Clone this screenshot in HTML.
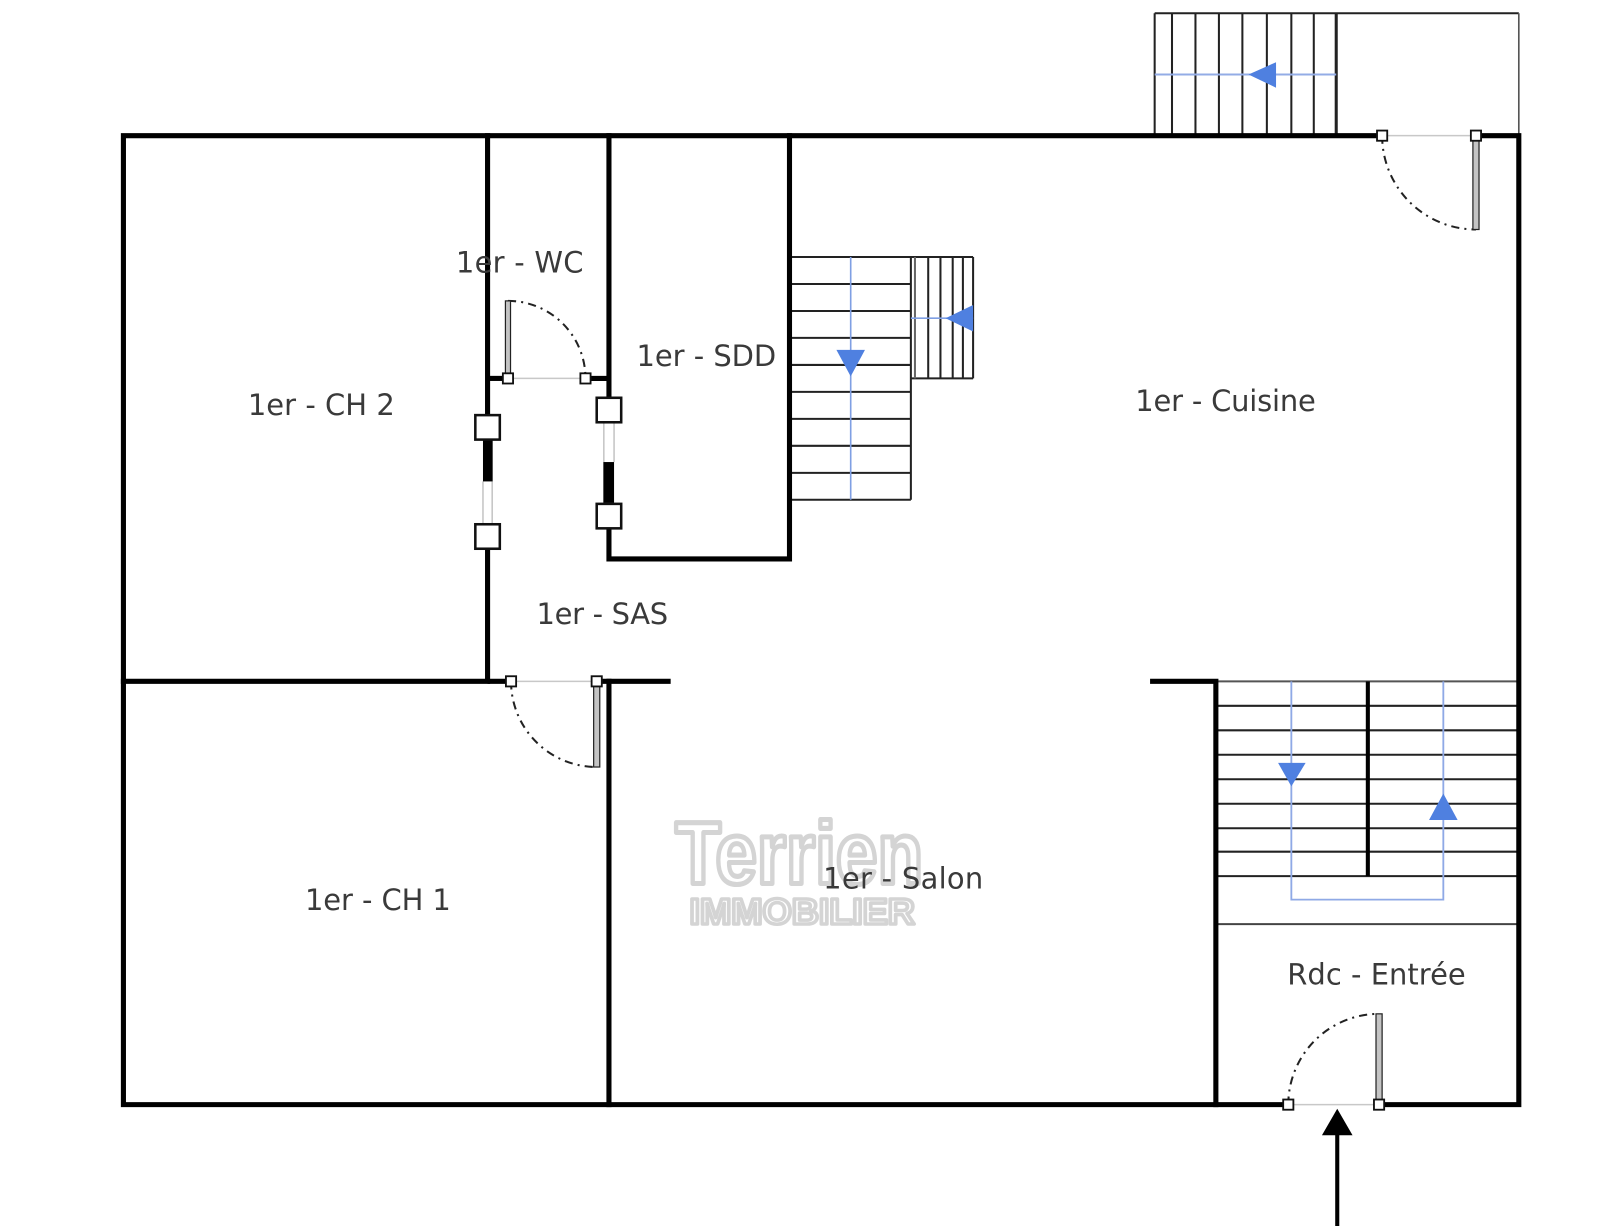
<!DOCTYPE html>
<html><head><meta charset="utf-8"><style>
html,body{margin:0;padding:0;background:#fff;}
svg{display:block;}
.lbl{font-family:"DejaVu Sans","Liberation Sans",sans-serif;font-size:28.4px;fill:#3a3a3a;}
</style></head><body>
<svg width="1600" height="1226" viewBox="0 0 1568.6 1202" preserveAspectRatio="none" xmlns="http://www.w3.org/2000/svg">
<rect x="0" y="0" width="1568.6" height="1202" fill="#fff"/>

<!-- Kitchen top stair -->
<g stroke="#222" fill="none">
  <line x1="1132" y1="13" x2="1489" y2="13" stroke-width="2"/>
  <line x1="1489" y1="13" x2="1489" y2="133" stroke-width="1.6" stroke="#555"/>
  <g stroke-width="2">
    <line x1="1132" y1="13" x2="1132" y2="133"/>
    <line x1="1149" y1="13" x2="1149" y2="133"/>
    <line x1="1172" y1="13" x2="1172" y2="133"/>
    <line x1="1195" y1="13" x2="1195" y2="133"/>
    <line x1="1218" y1="13" x2="1218" y2="133"/>
    <line x1="1242" y1="13" x2="1242" y2="133"/>
    <line x1="1266" y1="13" x2="1266" y2="133"/>
    <line x1="1288" y1="13" x2="1288" y2="133"/>
  </g>
  <line x1="1310" y1="13" x2="1310" y2="133" stroke-width="3"/>
</g>
<line x1="1132" y1="73" x2="1310" y2="73" stroke="#93ace6" stroke-width="2"/>
<polygon points="1224,73 1251,61 1251,86" fill="#4f80e0"/>

<!-- SDD stair -->
<g stroke="#222" stroke-width="2" fill="none">
  <line x1="774" y1="252" x2="954" y2="252"/>
  <line x1="774" y1="278.4" x2="893" y2="278.4"/>
  <line x1="774" y1="304.9" x2="893" y2="304.9"/>
  <line x1="774" y1="331.3" x2="893" y2="331.3"/>
  <line x1="774" y1="357.8" x2="893" y2="357.8"/>
  <line x1="774" y1="384.2" x2="893" y2="384.2"/>
  <line x1="774" y1="410.7" x2="893" y2="410.7"/>
  <line x1="774" y1="437.1" x2="893" y2="437.1"/>
  <line x1="774" y1="463.6" x2="893" y2="463.6"/>
  <line x1="774" y1="490" x2="893" y2="490"/>
  <line x1="893" y1="252" x2="893" y2="490"/>
  <line x1="893" y1="371" x2="954" y2="371"/>
  <line x1="897" y1="252" x2="897" y2="371" stroke="#666"/>
  <line x1="910" y1="252" x2="910" y2="371"/>
  <line x1="922" y1="252" x2="922" y2="371"/>
  <line x1="934" y1="252" x2="934" y2="371"/>
  <line x1="944" y1="252" x2="944" y2="371"/>
  <line x1="954" y1="252" x2="954" y2="371"/>
</g>
<line x1="834" y1="252" x2="834" y2="490" stroke="#7f9fe3" stroke-width="1.6"/>
<line x1="893" y1="312" x2="954" y2="312" stroke="#7f9fe3" stroke-width="1.6"/>
<polygon points="820,343 848,343 834,369" fill="#4f80e0"/>
<polygon points="927,312 954,299 954,325" fill="#4f80e0"/>

<!-- Entry stair -->
<g stroke="#222" stroke-width="2" fill="none">
  <line x1="1192" y1="668" x2="1489" y2="668" stroke="#555"/>
  <line x1="1192" y1="692" x2="1489" y2="692"/>
  <line x1="1192" y1="716" x2="1489" y2="716"/>
  <line x1="1192" y1="740" x2="1489" y2="740"/>
  <line x1="1192" y1="764" x2="1489" y2="764"/>
  <line x1="1192" y1="788" x2="1489" y2="788"/>
  <line x1="1192" y1="812" x2="1489" y2="812"/>
  <line x1="1192" y1="835" x2="1489" y2="835"/>
  <line x1="1192" y1="859" x2="1489" y2="859"/>
  <line x1="1192" y1="906" x2="1489" y2="906" stroke="#444"/>
  <line x1="1341" y1="668" x2="1341" y2="859" stroke-width="4" stroke="#000"/>
</g>
<path d="M1266,668 V882 H1415 V668" fill="none" stroke="#8fa9e6" stroke-width="1.8"/>
<polygon points="1253,748 1280,748 1266,771" fill="#4f80e0"/>
<polygon points="1415,778 1401,804 1429,804" fill="#4f80e0"/>

<!-- Walls -->
<g stroke="#000" stroke-width="5" fill="none" stroke-linecap="square" stroke-linejoin="miter">
  <path d="M1355,133 H121 V1083 H1263"/>
  <path d="M1447,133 H1489 V1083 H1352"/>
  <path d="M478,133 V407"/>
  <path d="M478,539 V668 H121"/>
  <path d="M478,668 H496" stroke-linecap="butt"/>
  <path d="M478,371 H493" stroke-linecap="butt"/>
  <path d="M579,371 H597" stroke-linecap="butt"/>
  <path d="M597,133 V389"/>
  <path d="M597,518 V548 H774 V133"/>
  <path d="M590,668 H655"/>
  <path d="M597,668 V1083"/>
  <path d="M1130,668 H1192 V1083"/>
</g>

<!-- Sliding doors -->
<g stroke="#bbb" stroke-width="1.3">
  <line x1="473.5" y1="472" x2="473.5" y2="513"/>
  <line x1="482.5" y1="472" x2="482.5" y2="513"/>
  <line x1="592" y1="414" x2="592" y2="453"/>
  <line x1="602" y1="414" x2="602" y2="453"/>
</g>
<rect x="473.5" y="431" width="9.5" height="41" fill="#000"/>
<rect x="591.5" y="453" width="10.5" height="40" fill="#000"/>
<g fill="#fff" stroke="#111" stroke-width="2.5">
  <rect x="466" y="407" width="24" height="24"/>
  <rect x="466" y="514" width="24" height="24"/>
  <rect x="585" y="390" width="24" height="24"/>
  <rect x="585" y="494" width="24" height="24"/>
</g>

<!-- Swing doors: thresholds -->
<g stroke="#c8c8c8" stroke-width="1.5">
  <line x1="498" y1="371" x2="574" y2="371"/>
  <line x1="501" y1="668" x2="585" y2="668"/>
  <line x1="1355" y1="133" x2="1447" y2="133"/>
  <line x1="1263" y1="1083" x2="1352" y2="1083"/>
</g>
<!-- arcs -->
<g fill="none" stroke="#222" stroke-width="2" stroke-dasharray="8 5 2 5">
  <path d="M498,295 A76,76 0 0 1 574,371"/>
  <path d="M501,668 A84,84 0 0 0 585,752"/>
  <path d="M1355,133 A92,92 0 0 0 1447,225"/>
  <path d="M1263,1083 A89,89 0 0 1 1352,994"/>
</g>
<!-- leaves -->
<g fill="#c4c4c4" stroke="#222" stroke-width="1.2">
  <rect x="495.5" y="295" width="5" height="76"/>
  <rect x="582" y="668" width="6" height="84"/>
  <rect x="1444" y="133" width="6" height="92"/>
  <rect x="1349" y="994" width="6" height="89"/>
</g>
<!-- pivots -->
<g fill="#fff" stroke="#111" stroke-width="1.8">
  <rect x="493" y="366" width="10" height="10"/>
  <rect x="569" y="366" width="10" height="10"/>
  <rect x="496" y="663" width="10" height="10"/>
  <rect x="580" y="663" width="10" height="10"/>
  <rect x="1350" y="128" width="10" height="10"/>
  <rect x="1442" y="128" width="10" height="10"/>
  <rect x="1258" y="1078" width="10" height="10"/>
  <rect x="1347" y="1078" width="10" height="10"/>
</g>

<!-- Entry arrow -->
<line x1="1311" y1="1108" x2="1311" y2="1202" stroke="#000" stroke-width="4"/>
<polygon points="1311,1087 1296,1113 1326,1113" fill="#000"/>

<!-- Watermark -->
<text x="662" y="866" font-family="Liberation Sans, sans-serif" font-weight="bold" font-size="86" textLength="243" lengthAdjust="spacingAndGlyphs" fill="#fff" stroke="#d4d4d4" stroke-width="5" stroke-linejoin="round">Terrien</text>
<text x="676" y="906" font-family="Liberation Sans, sans-serif" font-weight="bold" font-size="35" textLength="221" lengthAdjust="spacingAndGlyphs" fill="#fff" stroke="#d4d4d4" stroke-width="3.5" stroke-linejoin="round">IMMOBILIER</text>

<!-- Labels -->
<text class="lbl" x="447" y="267" textLength="125" lengthAdjust="spacing">1er - WC</text>
<text class="lbl" x="624" y="359" textLength="137" lengthAdjust="spacing">1er - SDD</text>
<text class="lbl" x="243" y="407" textLength="144" lengthAdjust="spacing">1er - CH 2</text>
<text class="lbl" x="1113" y="403" textLength="177" lengthAdjust="spacing">1er - Cuisine</text>
<text class="lbl" x="526" y="612" textLength="129" lengthAdjust="spacing">1er - SAS</text>
<text class="lbl" x="299" y="892" textLength="143" lengthAdjust="spacing">1er - CH 1</text>
<text class="lbl" x="807" y="871" textLength="157" lengthAdjust="spacing">1er - Salon</text>
<text class="lbl" x="1262" y="965" textLength="175" lengthAdjust="spacing">Rdc - Entrée</text>
</svg>
</body></html>
